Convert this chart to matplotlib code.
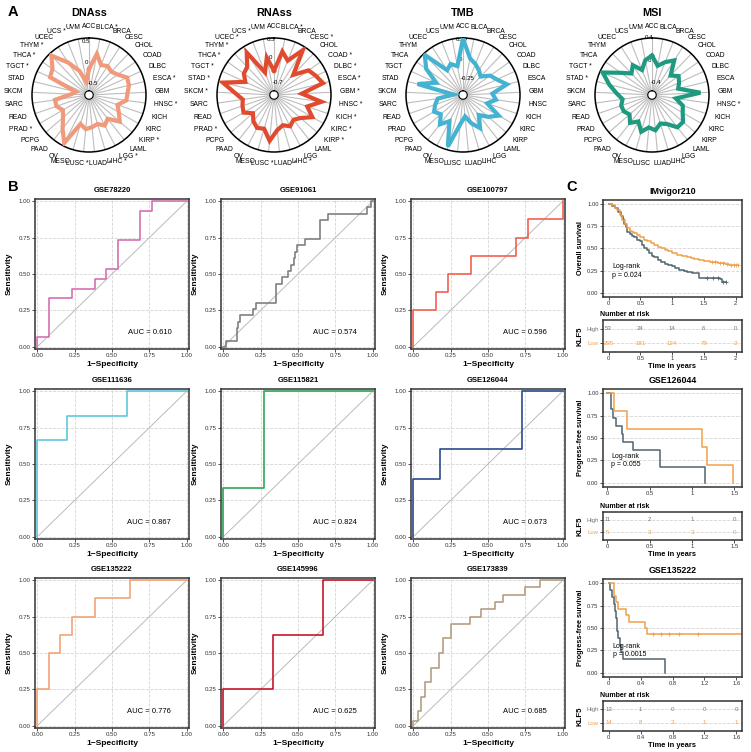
import numpy as np
import matplotlib
matplotlib.use("Agg")
import matplotlib.pyplot as plt
from matplotlib.textpath import TextPath
from matplotlib.font_manager import FontProperties

plt.rcParams['font.family'] = ['Liberation Sans', 'DejaVu Sans']

W, H = 751, 752

# ---------------- data: panel A (radar) ----------------
cancers = ['ACC', 'BLCA', 'BRCA', 'CESC', 'CHOL', 'COAD', 'DLBC', 'ESCA', 'GBM', 'HNSC', 'KICH',
           'KIRC', 'KIRP', 'LAML', 'LGG', 'LIHC', 'LUAD', 'LUSC', 'MESO', 'OV', 'PAAD', 'PCPG',
           'PRAD', 'READ', 'SARC', 'SKCM', 'STAD', 'TGCT', 'THCA', 'THYM', 'UCEC', 'UCS', 'UVM']

dnass_sig = ['BLCA', 'ESCA', 'HNSC', 'KIRP', 'LGG', 'LIHC', 'LUAD', 'LUSC', 'PRAD', 'TGCT', 'THCA', 'THYM', 'UCS']
rnass_sig = ['BLCA', 'CESC', 'COAD', 'DLBC', 'ESCA', 'GBM', 'HNSC', 'KICH', 'KIRC', 'KIRP', 'LIHC', 'LUAD',
             'LUSC', 'PRAD', 'SKCM', 'STAD', 'TGCT', 'THCA', 'THYM', 'UCEC', 'UCS']
tmb_sig = []
msi_sig = ['HNSC', 'STAD', 'TGCT']

dnass = [-0.1, 0.28, 0.05, 0.1, 0.05, 0.12, 0.28, 0.26, 0.2, 0.18, 0.0, 0.1, 0.25, 0.0, 0.1, 0.0,
         0.05, 0.1, 0.0, 0.57, 0.3, 0.1, 0.0, 0.1, 0.1, -0.3, -0.4, 0.3, 0.35, 0.58, 0.2, -0.1, -0.4]
rnass = [-0.3, 0.25, 0.05, 0.5, -0.2, 0.2, 0.3, 0.42, -0.2, 0.35, 0.0, 0.25, 0.0, -0.1, 0.0, -0.1,
         0.0, 0.3, 0.0, 0.05, -0.05, -0.2, 0.0, -0.05, -0.1, 0.1, 0.48, -0.1, 0.05, 0.1, 0.42, -0.3, 0.08]
tmb = [0.29, 0.05, 0.0, -0.05, -0.1, 0.0, 0.05, 0.15, -0.05, 0.0, -0.1, 0.1, 0.0, -0.1, 0.05, -0.05,
       -0.15, -0.05, 0.26, -0.05, 0.05, -0.05, 0.0, -0.05, -0.1, -0.3, 0.17, -0.05, 0.15, 0.28, -0.05, 0.0, -0.05]
msi = [0.12, -0.05, 0.05, 0.15, -0.1, 0.0, -0.05, -0.1, 0.28, -0.15, 0.0, 0.05, 0.15, 0.15, 0.0, -0.05,
       0.05, 0.0, 0.1, -0.05, 0.05, -0.05, 0.0, 0.0, -0.05, 0.05, 0.2, 0.38, 0.1, -0.05, 0.05, -0.1, 0.05]

# ---------------- data: panel B (ROC) ----------------
roc_names = ['GSE78220', 'GSE91061', 'GSE100797', 'GSE111636', 'GSE115821',
             'GSE126044', 'GSE135222', 'GSE145996', 'GSE173839']
roc_auc = ['0.610', '0.574', '0.596', '0.867', '0.824', '0.673', '0.776', '0.625', '0.685']
roc_colors = ['#D670B2', '#808080', '#F2604E', '#5EC7DB', '#2FA65A',
              '#2B4C8E', '#F2A477', '#C8142C', '#B49E84']
roc_fpr = [
    [0, 0, 0.077, 0.077, 0.23, 0.23, 0.385, 0.385, 0.46, 0.46, 0.54, 0.54, 0.69, 0.69, 0.77, 0.77, 1],
    [0, 0.02, 0.02, 0.09, 0.09, 0.1, 0.1, 0.11, 0.11, 0.2, 0.2, 0.22, 0.22, 0.35, 0.35, 0.39, 0.39, 0.43, 0.43,
     0.45, 0.45, 0.47, 0.47, 0.48, 0.48, 0.49, 0.49, 0.55, 0.55, 0.65, 0.65, 0.7, 0.7, 0.96, 0.96, 0.99, 0.99, 1],
    [0, 0, 0.154, 0.154, 0.23, 0.23, 0.385, 0.385, 0.69, 0.69, 0.77, 0.77, 1, 1],
    [0, 0, 0.2, 0.2, 0.6, 0.6, 1],
    [0, 0, 0.273, 0.273, 1],
    [0, 0, 0.18, 0.18, 0.73, 0.73, 1],
    [0, 0, 0.077, 0.077, 0.154, 0.154, 0.23, 0.23, 0.385, 0.385, 0.62, 0.62, 1],
    [0, 0, 0.333, 0.333, 0.667, 0.667, 1],
    [0, 0, 0.03, 0.03, 0.05, 0.05, 0.08, 0.08, 0.12, 0.12, 0.17, 0.17, 0.2, 0.2, 0.25, 0.25, 0.38, 0.38,
     0.45, 0.45, 0.55, 0.55, 0.6, 0.6, 0.75, 0.75, 0.85, 0.85, 1],
]
roc_tpr = [
    [0, 0.067, 0.067, 0.333, 0.333, 0.4, 0.4, 0.467, 0.467, 0.533, 0.533, 0.733, 0.733, 0.933, 0.933, 1, 1],
    [0, 0, 0.04, 0.04, 0.13, 0.13, 0.17, 0.17, 0.22, 0.22, 0.26, 0.26, 0.3, 0.3, 0.43, 0.43, 0.48, 0.48, 0.52,
     0.52, 0.565, 0.565, 0.61, 0.61, 0.65, 0.65, 0.7, 0.7, 0.74, 0.74, 0.87, 0.87, 0.91, 0.91, 0.96, 0.96, 1, 1],
    [0, 0.25, 0.25, 0.375, 0.375, 0.5, 0.5, 0.625, 0.625, 0.75, 0.75, 0.875, 0.875, 1],
    [0, 0.667, 0.667, 0.833, 0.833, 1, 1],
    [0, 0.333, 0.333, 1, 1],
    [0, 0.4, 0.4, 0.6, 0.6, 1, 1],
    [0, 0.25, 0.25, 0.5, 0.5, 0.625, 0.625, 0.75, 0.75, 0.875, 0.875, 1, 1],
    [0, 0.25, 0.25, 0.625, 0.625, 1, 1],
    [0, 0.03, 0.03, 0.1, 0.1, 0.2, 0.2, 0.3, 0.3, 0.4, 0.4, 0.5, 0.5, 0.6, 0.6, 0.7, 0.7, 0.75,
     0.75, 0.8, 0.8, 0.85, 0.85, 0.9, 0.9, 0.95, 0.95, 1, 1],
]

# ---------------- data: panel C (survival) ----------------
km_titles = ['IMvigor210', 'GSE126044', 'GSE135222']
km_ylabels = ['Overall survival', 'Progress-free survival', 'Progress-free survival']
km_pvals = ['0.024', '0.055', '0.0015']
km_xticks = [[0, 0.5, 1, 1.5, 2], [0, 0.5, 1, 1.5], [0, 0.4, 0.8, 1.2, 1.6]]
km_xticklabels = [['0', '0.5', '1', '1.5', '2'], ['0', '0.5', '1', '1.5'], ['0', '0.4', '0.8', '1.2', '1.6']]
km_xlim = [(-0.09, 2.1), (-0.05, 1.59), (-0.07, 1.67)]
risk_high = [[53, 24, 14, 6, 0], [11, 2, 1, 0], [13, 1, 0, 0, 0]]
risk_low = [[295, 181, 124, 79, 2], [5, 3, 3, 0], [14, 8, 3, 1, 1]]

high_t = [
    [0, 0.05, 0.1, 0.15, 0.2, 0.22, 0.24, 0.27, 0.29, 0.33, 0.37, 0.4, 0.45, 0.5, 0.53, 0.56, 0.6, 0.63,
     0.68, 0.72, 0.77, 0.82, 0.88, 0.93, 1.0, 1.05, 1.11, 1.18, 1.24, 1.32, 1.4, 1.43, 1.6, 1.75, 1.78, 1.85],
    [0, 0.04, 0.05, 0.07, 0.1, 0.17, 0.19, 0.3, 0.62, 1.15],
    [0, 0.02, 0.04, 0.07, 0.08, 0.09, 0.1, 0.11, 0.12, 0.14, 0.16, 0.18, 0.7],
]
high_s = [
    [1, 0.98, 0.95, 0.91, 0.87, 0.83, 0.78, 0.74, 0.69, 0.66, 0.64, 0.63, 0.6, 0.58, 0.54, 0.5, 0.48, 0.45,
     0.42, 0.4, 0.37, 0.35, 0.33, 0.32, 0.3, 0.28, 0.26, 0.25, 0.24, 0.23, 0.22, 0.17, 0.17, 0.16, 0.12, 0.12],
    [1, 0.909, 0.818, 0.727, 0.636, 0.545, 0.455, 0.364, 0.182, 0.091],
    [1, 0.923, 0.846, 0.769, 0.692, 0.615, 0.538, 0.462, 0.385, 0.308, 0.231, 0.154, 0.077],
]
high_end = [[1.85, 0.12], [1.15, 0.0], [0.7, 0.0]]
low_t = [
    [0, 0.05, 0.1, 0.13, 0.17, 0.21, 0.25, 0.29, 0.33, 0.37, 0.4, 0.45, 0.5, 0.55, 0.61, 0.66, 0.71, 0.77,
     0.82, 0.88, 0.93, 1.0, 1.08, 1.16, 1.24, 1.3, 1.35, 1.43, 1.5, 1.6, 1.72, 1.83, 1.9],
    [0, 0.08, 0.23, 1.12, 1.18, 1.48],
    [0, 0.07, 0.09, 0.12, 0.22, 0.25, 0.46, 0.48],
]
low_s = [
    [1, 0.99, 0.96, 0.93, 0.88, 0.82, 0.78, 0.73, 0.7, 0.68, 0.67, 0.65, 0.63, 0.6, 0.58, 0.56, 0.54, 0.52,
     0.5, 0.48, 0.47, 0.45, 0.43, 0.42, 0.4, 0.39, 0.38, 0.37, 0.36, 0.35, 0.34, 0.33, 0.32],
    [1, 0.8, 0.6, 0.4, 0.2, 0.0],
    [1, 0.857, 0.786, 0.714, 0.643, 0.571, 0.5, 0.429],
]
low_end = [[2.04, 0.32], [1.48, 0.0], [1.67, 0.429]]
low_cens = [[1.62, 1.68, 1.75, 1.8, 1.86, 1.92, 1.97, 2.0, 2.03], [], [0.55, 0.66, 0.76, 0.88, 1.12]]
high_cens = [[1.55, 1.65, 1.72, 1.8, 1.85], [], []]

HIGH_C = '#4F6570'
LOW_C = '#F0A04B'
LAB_FS = 4.9
fprop = FontProperties(family='Liberation Sans', size=LAB_FS)


def px_box(l, t, r, b):
    return [l / W, 1 - b / H, (r - l) / W, (b - t) / H]


def step_value(ts, ss, x):
    return ss[np.searchsorted(ts, x, side='right') - 1]


fig = plt.figure(figsize=(W / 100, H / 100), dpi=100)

# ---------------- panel A ----------------
angles = np.arange(len(cancers)) * 2 * np.pi / len(cancers)
radars = [
    (89, 'DNAss', dnass, dnass_sig, '#F0997B', -0.62, 0.64, [-0.5, 0, 0.5], ['-0.5', '0', '0.5']),
    (274, 'RNAss', rnass, rnass_sig, '#E04A2F', -0.85, 0.6, [-0.7, 0, 0.5], ['-0.7', '0', '0.5']),
    (463, 'TMB', tmb, tmb_sig, '#44B3D1', -0.37, 0.30, [-0.25, 0, 0.25], ['-0.25', '0', '0.25']),
    (652, 'MSI', msi, msi_sig, '#1E9A80', -0.5, 0.43, [-0.4, 0, 0.4], ['-0.4', '0', '0.4']),
]
for cx, title, vals, sig, col, lo, hi, rt, rtl in radars:
    ax = fig.add_axes(px_box(cx - 57, 38, cx + 57, 152), projection='polar')
    ax.set_theta_zero_location('N')
    ax.set_theta_direction(-1)
    ax.set_ylim(lo, hi)
    r0 = lo - 0.08 * (hi - lo)
    ax.set_rorigin(r0)
    a = np.append(angles, angles[0])
    v = np.append(vals, vals[0])
    ax.plot(a, v, color=col, lw=3.0, solid_joinstyle='miter', zorder=3)
    ax.set_xticks(angles)
    ax.set_xticklabels([])
    ax.tick_params(axis='x', length=0)
    ax.xaxis.grid(True, color='#BDBDBD', lw=0.8)
    ax.yaxis.grid(False)
    ax.set_yticks(rt)
    ax.set_yticklabels(rtl, fontsize=4.4)
    ax.set_rlabel_position(352)
    ax.spines['polar'].set_linewidth(1.1)
    ax.spines['inner'].set_linewidth(0.8)
    # category labels placed just outside the circle, justified by side
    r_lab = r0 + 1.16 * (hi - r0)
    for th, c in zip(angles, cancers):
        s = c + ' *' if c in sig else c
        w = TextPath((0, 0), s, prop=fprop).get_extents().width
        k_side = 2.5 if np.cos(th) > 0 else 5.0
        dx = 0.5 * np.clip(k_side * np.sin(th), -1, 1) * w
        dy = 0.5 * np.cos(th) * LAB_FS * 0.8
        ax.annotate(s, xy=(th, r_lab), xytext=(dx, dy), textcoords='offset points',
                    ha='center', va='center', fontsize=LAB_FS, annotation_clip=False)
    fig.text(cx / W, 1 - 13 / H, title, ha='center', va='center', fontsize=7.8, fontweight='bold')

# ---------------- panel B ----------------
col_l = [35, 221, 411]
row_t = [199, 389, 578]
for i, name in enumerate(roc_names):
    r, c = divmod(i, 3)
    l, t = col_l[c], row_t[r]
    ax = fig.add_axes(px_box(l, t, l + 154, t + 150))
    ax.plot([0, 1], [0, 1], color='#BBBBBB', lw=0.7, zorder=2)
    ax.plot(roc_fpr[i], roc_tpr[i], color=roc_colors[i], lw=1.2, zorder=3)
    ax.set_xlim(-0.015, 1.015)
    ax.set_ylim(-0.015, 1.015)
    ticks = [0, 0.25, 0.5, 0.75, 1]
    ax.set_xticks(ticks)
    ax.set_yticks(ticks)
    ax.set_xticklabels(['0.00', '0.25', '0.50', '0.75', '1.00'], fontsize=4.4)
    ax.set_yticklabels(['0.00', '0.25', '0.50', '0.75', '1.00'], fontsize=4.4)
    ax.tick_params(length=2, width=0.6, pad=1.2, colors='#333333')
    ax.grid(True, ls='--', color='#D5D5D5', lw=0.6)
    for s in ax.spines.values():
        s.set_linewidth(1.1)
        s.set_color('#333333')
    ax.set_xlabel('1\u2212Specificity', fontsize=6, fontweight='bold', labelpad=1.5)
    ax.set_ylabel('Sensitivity', fontsize=6, fontweight='bold', labelpad=4)
    ax.set_title(name, fontsize=5.5, fontweight='bold', pad=5)
    ax.text(0.75, 0.1, 'AUC = ' + roc_auc[i], ha='center', va='center', fontsize=5.5)

# ---------------- panel C ----------------
km_main = [(200, 297), (389, 487), (579, 677)]
km_tab = [(320, 352), (512, 540), (701, 731)]
for k in range(3):
    top, bot = km_main[k]
    ax = fig.add_axes(px_box(603, top, 742, bot))
    ax.step(high_t[k] + [high_end[k][0]], high_s[k] + [high_end[k][1]], where='post', color=HIGH_C, lw=1.1)
    ax.step(low_t[k] + [low_end[k][0]], low_s[k] + [low_end[k][1]], where='post', color=LOW_C, lw=1.1)
    if low_cens[k]:
        ax.plot(low_cens[k], [step_value(low_t[k], low_s[k], x) for x in low_cens[k]],
                '+', color=LOW_C, ms=3, mew=0.6)
    if high_cens[k]:
        ax.plot(high_cens[k], [step_value(high_t[k], high_s[k], x) for x in high_cens[k]],
                '+', color=HIGH_C, ms=3, mew=0.6)
    ax.set_xlim(*km_xlim[k])
    ax.set_ylim(-0.045, 1.045)
    ax.set_xticks(km_xticks[k])
    ax.set_xticklabels(km_xticklabels[k], fontsize=4.2)
    ax.set_yticks([0, 0.25, 0.5, 0.75, 1])
    ax.set_yticklabels(['0.00', '0.25', '0.50', '0.75', '1.00'], fontsize=4.2)
    ax.tick_params(length=2, width=0.6, pad=1.2, colors='#333333')
    ax.yaxis.grid(True, ls='--', color='#D5D5D5', lw=0.6)
    for s in ax.spines.values():
        s.set_linewidth(1.1)
        s.set_color('#333333')
    ax.set_ylabel(km_ylabels[k], fontsize=5.2, fontweight='bold', labelpad=2)
    ax.set_title(km_titles[k], fontsize=6.4, fontweight='bold', pad=4)
    ax.text(0.05, 0.27, 'Log-rank\np = ' + km_pvals[k], transform=ax.get_xaxis_transform(),
            fontsize=5, va='center', ha='left', linespacing=1.3)

    t0, t1 = km_tab[k]
    tb = fig.add_axes(px_box(603, t0, 742, t1))
    tb.set_xlim(*km_xlim[k])
    tb.set_ylim(-0.6, 1.6)
    for j, x in enumerate(km_xticks[k]):
        tb.text(x, 1, str(risk_high[k][j]), color='#777777', fontsize=4.4, ha='center', va='center')
        tb.text(x, 0, str(risk_low[k][j]), color=LOW_C, fontsize=4.4, ha='center', va='center')
    tb.axhline(1, ls='--', color='#D5D5D5', lw=0.6, zorder=0)
    tb.axhline(0, ls='--', color='#D5D5D5', lw=0.6, zorder=0)
    tb.set_xticks(km_xticks[k])
    tb.set_xticklabels(km_xticklabels[k], fontsize=4.2)
    tb.set_yticks([1, 0])
    tb.set_yticklabels(['High', 'Low'], fontsize=4.3)
    tb.tick_params(length=2, width=0.6, pad=1.2, colors='#333333')
    tb.get_yticklabels()[0].set_color('#777777')
    tb.get_yticklabels()[1].set_color(LOW_C)
    for s in tb.spines.values():
        s.set_linewidth(1.1)
        s.set_color('#333333')
    tb.set_ylabel('KLF5', fontsize=5.6, fontweight='bold', labelpad=2)
    tb.set_xlabel('Time in years', fontsize=5.4, fontweight='bold', labelpad=1)
    tb.set_title('Number at risk', fontsize=5, fontweight='bold', loc='left', x=-0.02, pad=3)

# panel letters
fig.text(8 / W, 1 - 12 / H, 'A', fontsize=10.5, fontweight='bold', va='center')
fig.text(8 / W, 1 - 187 / H, 'B', fontsize=10.5, fontweight='bold', va='center')
fig.text(566 / W, 1 - 187 / H, 'C', fontsize=10.5, fontweight='bold', va='center')

fig.savefig('out.png', dpi=100)
